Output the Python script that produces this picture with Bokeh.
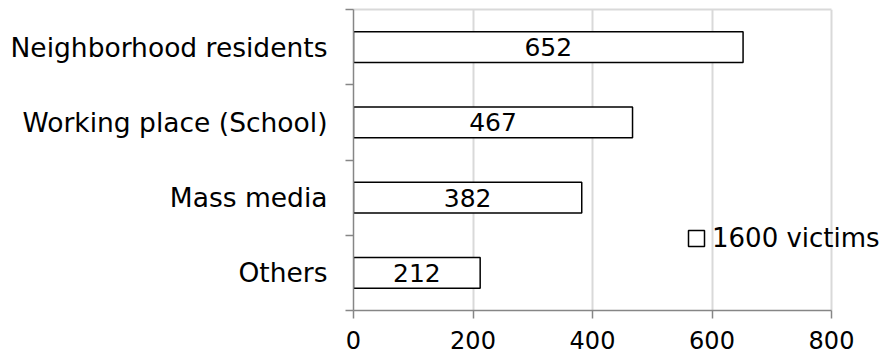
from bokeh.plotting import figure
from bokeh.models import ColumnDataSource, FixedTicker, Legend, LegendItem, Range1d, LinearAxis
from bokeh.core.properties import value
from bokeh.embed import file_html
from bokeh.resources import INLINE

categories = ["Neighborhood residents", "Working place (School)", "Mass media", "Others"]
counts = [652, 467, 382, 212]
x_ticks = [0, 200, 400, 600, 800]
series_name = "1600 victims"

FONT = "DejaVu Sans"
n = len(categories)
# bottom-to-top positions
ypos = [n - 1 - i + 0.5 for i in range(n)]

src = ColumnDataSource(dict(
    y=ypos,
    right=counts,
    mid=[c / 2 for c in counts],
    label=[str(c) for c in counts],
    cat=categories,
))

# layout: axis spans 0..800 over 478px; the frame continues to the right edge
# so that the legend text can run past the last gridline as in the original
W, H = 885, 358
LEFT, AXIS_PX, TOP, BOTTOM = 353, 478, 9, 48
x_max = x_ticks[-1]
x_end = x_max * (W - LEFT) / AXIS_PX

p = figure(width=W, height=H, output_backend="svg", toolbar_location=None,
           x_range=Range1d(0, x_end), y_range=Range1d(0, n),
           min_border_left=LEFT, min_border_right=0, min_border_top=TOP, min_border_bottom=BOTTOM)

r = p.hbar(y="y", left=0, right="right", height=0.41, source=src,
           fill_color="white", line_color="black", line_width=1.5)
p.text(x="mid", y="y", text="label", source=src, text_align="center", text_baseline="middle",
       text_font=value(FONT), text_font_size="25px", text_color="black")

# axes
xa = p.xaxis[0]
xa.ticker = FixedTicker(ticks=x_ticks)
xa.bounds = (0, x_max)
xa.major_tick_out = 8
xa.major_tick_in = 0
xa.minor_tick_line_color = None
xa.axis_line_color = "#868686"
xa.axis_line_width = 1.5
xa.major_tick_line_color = "#868686"
xa.major_tick_line_width = 1.5
xa.major_label_text_font = FONT
xa.major_label_text_font_size = "24px"
xa.major_label_text_color = "black"
xa.major_label_standoff = 12

# light top border of the plot area, over the 0..800 span only
top = LinearAxis(ticker=FixedTicker(ticks=[]), bounds=(0, x_max),
                 axis_line_color="#d9d9d9", axis_line_width=2,
                 major_tick_line_color=None, minor_tick_line_color=None,
                 major_label_text_font_size="0px", major_label_standoff=0)
p.add_layout(top, "above")

ya = p.yaxis[0]
ya.ticker = FixedTicker(ticks=ypos, minor_ticks=list(range(n + 1)))
ya.major_label_overrides = {y: c for y, c in zip(ypos, categories)}
ya.major_tick_line_color = None
ya.minor_tick_out = 8
ya.minor_tick_in = 0
ya.minor_tick_line_color = "#868686"
ya.minor_tick_line_width = 1.5
ya.axis_line_color = "#868686"
ya.axis_line_width = 1.5
ya.major_label_text_font = FONT
ya.major_label_text_font_size = "26.5px"
ya.major_label_text_color = "black"
ya.major_label_standoff = 18

p.xgrid.ticker = FixedTicker(ticks=x_ticks[1:])
p.xgrid.grid_line_color = "#d9d9d9"
p.xgrid.grid_line_width = 2
p.ygrid.grid_line_color = None
p.outline_line_color = None

legend = Legend(items=[LegendItem(label=series_name, renderers=[r])],
                location=(333, 57), orientation="vertical",
                glyph_width=20, glyph_height=20, label_standoff=6,
                label_text_font=FONT, label_text_font_size="26px", label_text_color="black",
                padding=0, margin=0, spacing=0,
                border_line_color=None, background_fill_alpha=0)
p.add_layout(legend, "center")

open("out.html", "w").write(file_html(p, INLINE))
